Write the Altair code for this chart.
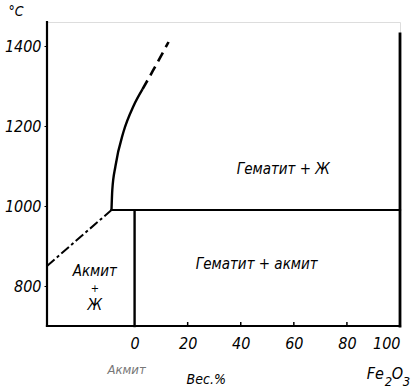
import altair as alt
import pandas as pd

FONT = "DejaVu Sans Condensed, DejaVu Sans, sans-serif"

# composition axis (wt. % Fe2O3 from acmite) and temperature axis
x_ticks = [0, 20, 40, 60, 80, 100]
t_ticks = [800, 1000, 1200, 1400]
x_min, x_max = -33, 100
t_min, t_max = 700, 1460
PLOT_H = 304

# liquidus of acmite + liquid (left branch)
left_liq_x = [-33, -8.7]
left_liq_t = [850, 990]

# hematite liquidus: measured (solid) and extrapolated (dashed) parts
hem_solid_x = [-8.7, -8.4, -7.2, -4.2, -0.4, 3.0]
hem_solid_t = [990, 1040, 1100, 1185, 1250, 1292]
hem_dash_x = [3.0, 6.8, 12.8]
hem_dash_t = [1292, 1337, 1410]

# straight phase boundaries: x, x2, t, t2, stroke width
seg_x = [-8.7, 0, 100, -33, -33]
seg_x2 = [100, 0, 100, 100, -33]
seg_t = [990, 700, 700, 700, 700]
seg_t2 = [990, 985, 1430, 700, 1460]
seg_w = [2.2, 2.4, 2.8, 2.2, 2.2]

# region labels
region_labels = ["Гематит + Ж", "Гематит + акмит", "Акмит", "+", "Ж"]
region_x = [56, 46, -15, -15, -15]
region_t = [1092, 855, 837, 793, 752]
region_size = [15, 15, 15, 11, 15]

# Fe2O3 written as formula pieces: text, horizontal shift, subscript flag
fe_parts = ["Fe", "2", "O", "3"]
fe_dx = [-14, -1, 8, 17]
fe_sub = [0, 1, 0, 1]

xs = alt.Scale(domain=[x_min, x_max], nice=False, zero=False)
ys = alt.Scale(domain=[t_min, t_max], nice=False, zero=False)

segs = pd.DataFrame({"x": seg_x, "x2": seg_x2, "t": seg_t, "t2": seg_t2, "w": seg_w})
base_rules = alt.Chart(segs).mark_rule(color="black", strokeCap="square").encode(
    x=alt.X("x:Q", scale=xs, axis=alt.Axis(values=x_ticks, title=None, domain=False,
                                          ticks=False, grid=False, labelPadding=9,
                                          format="d",
                                          labelFont=FONT, labelFontSize=16,
                                          labelFontStyle="italic", labelColor="black")),
    x2="x2:Q",
    y=alt.Y("t:Q", scale=ys, axis=alt.Axis(values=t_ticks, title=None, domain=False,
                                          ticks=True, tickSize=3, tickColor="black",
                                          grid=False, labelPadding=3, format="d",
                                          labelFont=FONT, labelFontSize=16,
                                          labelFontStyle="italic", labelColor="black")),
    y2="t2:Q",
    strokeWidth=alt.StrokeWidth("w:Q", scale=None),
)

# small inward ticks on the composition axis
bt = pd.DataFrame({"x": x_ticks[1:-1], "t": [t_min] * 4, "t2": [t_min + 10] * 4})
bottom_ticks = alt.Chart(bt).mark_rule(color="black", strokeWidth=1.5).encode(
    x=alt.X("x:Q", scale=xs), y=alt.Y("t:Q", scale=ys), y2="t2:Q")

left_liq = alt.Chart(pd.DataFrame({"x": left_liq_x, "t": left_liq_t})).mark_line(
    color="black", strokeWidth=2, strokeDash=[10, 3, 3, 3]).encode(
    x=alt.X("x:Q", scale=xs), y=alt.Y("t:Q", scale=ys))

hem_solid = alt.Chart(pd.DataFrame({"x": hem_solid_x, "t": hem_solid_t})).mark_line(
    color="black", strokeWidth=2.4, interpolate="monotone").encode(
    x=alt.X("x:Q", scale=xs), y=alt.Y("t:Q", scale=ys))

hem_dash = alt.Chart(pd.DataFrame({"x": hem_dash_x, "t": hem_dash_t})).mark_line(
    color="black", strokeWidth=2.6, strokeDash=[10, 6], interpolate="monotone").encode(
    x=alt.X("x:Q", scale=xs), y=alt.Y("t:Q", scale=ys))

regions = alt.Chart(pd.DataFrame({"x": region_x, "t": region_t, "label": region_labels,
                                  "s": region_size})).mark_text(
    font=FONT, fontStyle="italic", color="black", align="center", baseline="middle").encode(
    x=alt.X("x:Q", scale=xs), y=alt.Y("t:Q", scale=ys), text="label:N",
    size=alt.Size("s:Q", scale=None))

# labels around the frame
unit = alt.Chart(pd.DataFrame({"label": ["°C"]})).mark_text(
    font=FONT, fontStyle="italic", fontSize=14, color="black", align="center",
    baseline="middle").encode(x=alt.value(-31), y=alt.value(-10), text="label:N")

under_ak = alt.Chart(pd.DataFrame({"x": [-3], "label": ["Акмит"]})).mark_text(
    font=FONT, fontStyle="italic", fontSize=13, align="center", baseline="middle",
    color="#777777").encode(x=alt.X("x:Q", scale=xs), y=alt.value(PLOT_H + 44),
                            text="label:N")

fe_df = pd.DataFrame({"x": [96] * 4, "label": fe_parts, "dx": fe_dx,
                      "yy": [PLOT_H + 48 + 8 * s for s in fe_sub],
                      "s": [16 - 3 * s for s in fe_sub]})
under_fe = alt.Chart(fe_df).transform_calculate(
    xp="datum.x + datum.dx / 2.654").mark_text(
    font=FONT, fontStyle="italic", align="center", baseline="middle",
    color="black").encode(x=alt.X("xp:Q", scale=xs), y=alt.Y("yy:Q", scale=None),
                          text="label:N", size=alt.Size("s:Q", scale=None))

axis_name = alt.Chart(pd.DataFrame({"x": [27], "label": ["Вес.%"]})).mark_text(
    font=FONT, fontStyle="italic", fontSize=14, align="center", baseline="middle",
    color="black").encode(x=alt.X("x:Q", scale=xs), y=alt.value(PLOT_H + 54),
                          text="label:N")

chart = alt.layer(
    base_rules, bottom_ticks, left_liq, hem_solid, hem_dash, regions,
    unit, under_ak, under_fe, axis_name,
).properties(
    width=353, height=PLOT_H,
    padding={"left": 47, "top": 22, "right": 11, "bottom": 62},
    autosize=alt.AutoSizeParams(type="none"),
).configure_view(stroke=None).configure(background="white")

chart.save("out.html", embed_options={"renderer": "svg", "actions": False})
